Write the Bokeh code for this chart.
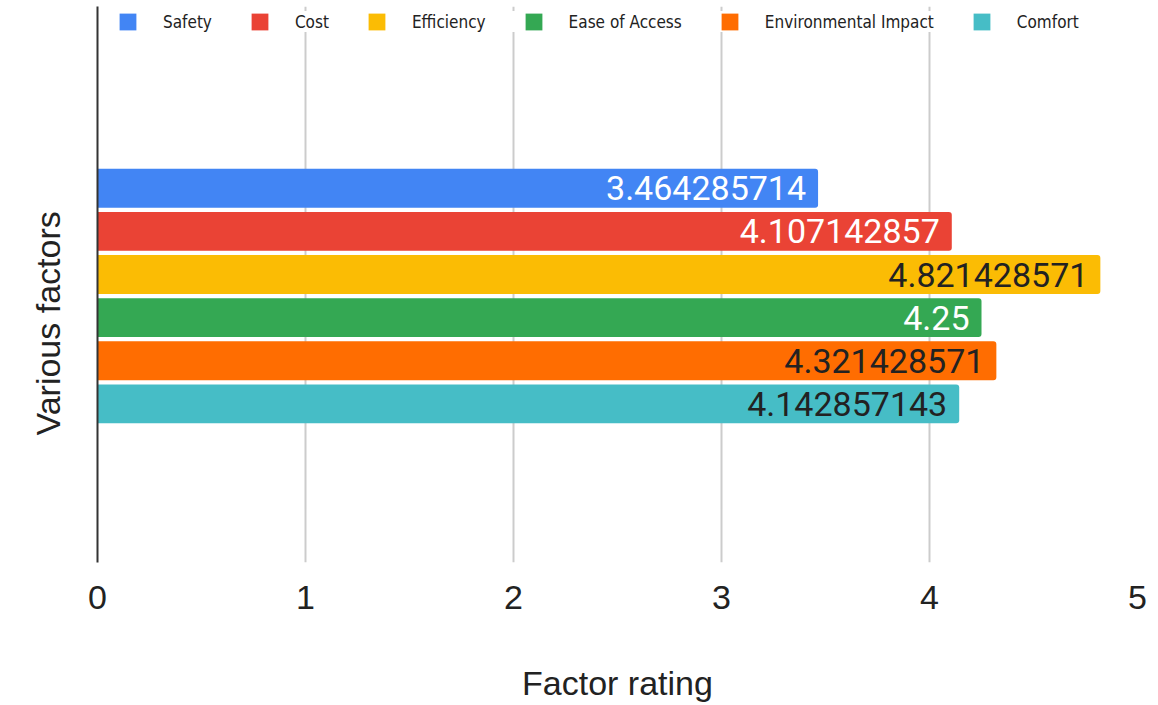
from bokeh.plotting import figure
from bokeh.models import ColumnDataSource, Range1d, Legend, LegendItem, FixedTicker, Title
from bokeh.core.properties import value
from bokeh.embed import file_html
from bokeh.resources import INLINE

series = ["Safety", "Cost", "Efficiency", "Ease of Access", "Environmental Impact", "Comfort"]
ratings = [3.464285714, 4.107142857, 4.821428571, 4.25, 4.321428571, 4.142857143]
colors = ["#4285F4", "#EA4335", "#FBBC04", "#34A853", "#FF6D01", "#46BDC6"]
label_colors = ["#ffffff", "#ffffff", "#222222", "#ffffff", "#222222", "#222222"]
x_ticks = [0, 1, 2, 3, 4, 5]

# series drawn top to bottom in list order
y_pos = list(range(len(series)))[::-1]

source = ColumnDataSource(dict(
    series=series,
    y=y_pos,
    rating=ratings,
    color=colors,
    label=[f"{v:.10g}" for v in ratings],
    label_color=label_colors,
))

p = figure(
    width=1150, height=705,
    x_range=Range1d(0, 5),
    y_range=Range1d(-3.678, 9.215),
    output_backend="svg", toolbar_location=None,
    min_border_left=97, min_border_right=13, min_border_top=6, min_border_bottom=143,
)
p.outline_line_color = None
p.background_fill_color = "white"
p.border_fill_color = "white"

# grid
p.ygrid.grid_line_color = None
p.xgrid.grid_line_color = "#cccccc"
p.xgrid.grid_line_width = 2
p.xgrid.ticker = FixedTicker(ticks=x_ticks)

bars = p.hbar(y="y", right="rating", left=0, height=0.9, fill_color="color",
              line_color=None, source=source, border_radius=(0, 3, 3, 0))

p.text(x="rating", y="y", text="label", text_align="right", text_baseline="middle",
       x_offset=-12, text_font=value("Roboto"), text_font_size="34px",
       text_color="label_color", source=source)

# x axis
p.xaxis.ticker = FixedTicker(ticks=x_ticks)
p.xaxis.axis_line_color = None
p.xaxis.major_tick_line_color = None
p.xaxis.minor_tick_line_color = None
p.xaxis.major_tick_out = 0
p.xaxis.major_label_standoff = 23
p.xaxis.major_label_text_font = "Liberation Sans"
p.xaxis.major_label_text_font_size = "34px"
p.xaxis.major_label_text_color = "#222222"
p.xaxis.axis_label = "Factor rating"
p.xaxis.axis_label_text_font = "Liberation Sans"
p.xaxis.axis_label_text_font_size = "34px"
p.xaxis.axis_label_text_font_style = "normal"
p.xaxis.axis_label_text_color = "#222222"
p.xaxis.axis_label_standoff = 52

# y axis: only the zero line
p.yaxis.ticker = FixedTicker(ticks=[])
p.yaxis.axis_line_color = "#333333"
p.yaxis.axis_line_width = 2
p.yaxis.major_tick_line_color = None
p.yaxis.minor_tick_line_color = None
p.yaxis.major_tick_out = 0
p.yaxis.major_label_standoff = 0

ytitle = Title(text="Various factors", align="left", offset=127, standoff=57,
               vertical_align="top",
               text_font="Liberation Sans", text_font_size="34px",
               text_font_style="normal", text_color="#222222")
p.add_layout(ytitle, "left")

items = [LegendItem(label=s, renderers=[bars], index=i) for i, s in enumerate(series)]
legend = Legend(
    items=items, orientation="horizontal", location=(20, 530),
    glyph_width=21, glyph_height=21, label_standoff=25, spacing=37,
    padding=5, margin=0,
    label_text_font="DejaVu Sans Condensed", label_text_font_size="17px",
    label_text_color="#222222",
    border_line_color=None, background_fill_color="white", background_fill_alpha=1.0,
)
p.add_layout(legend, "center")

open("out.html", "w").write(file_html(p, INLINE))
